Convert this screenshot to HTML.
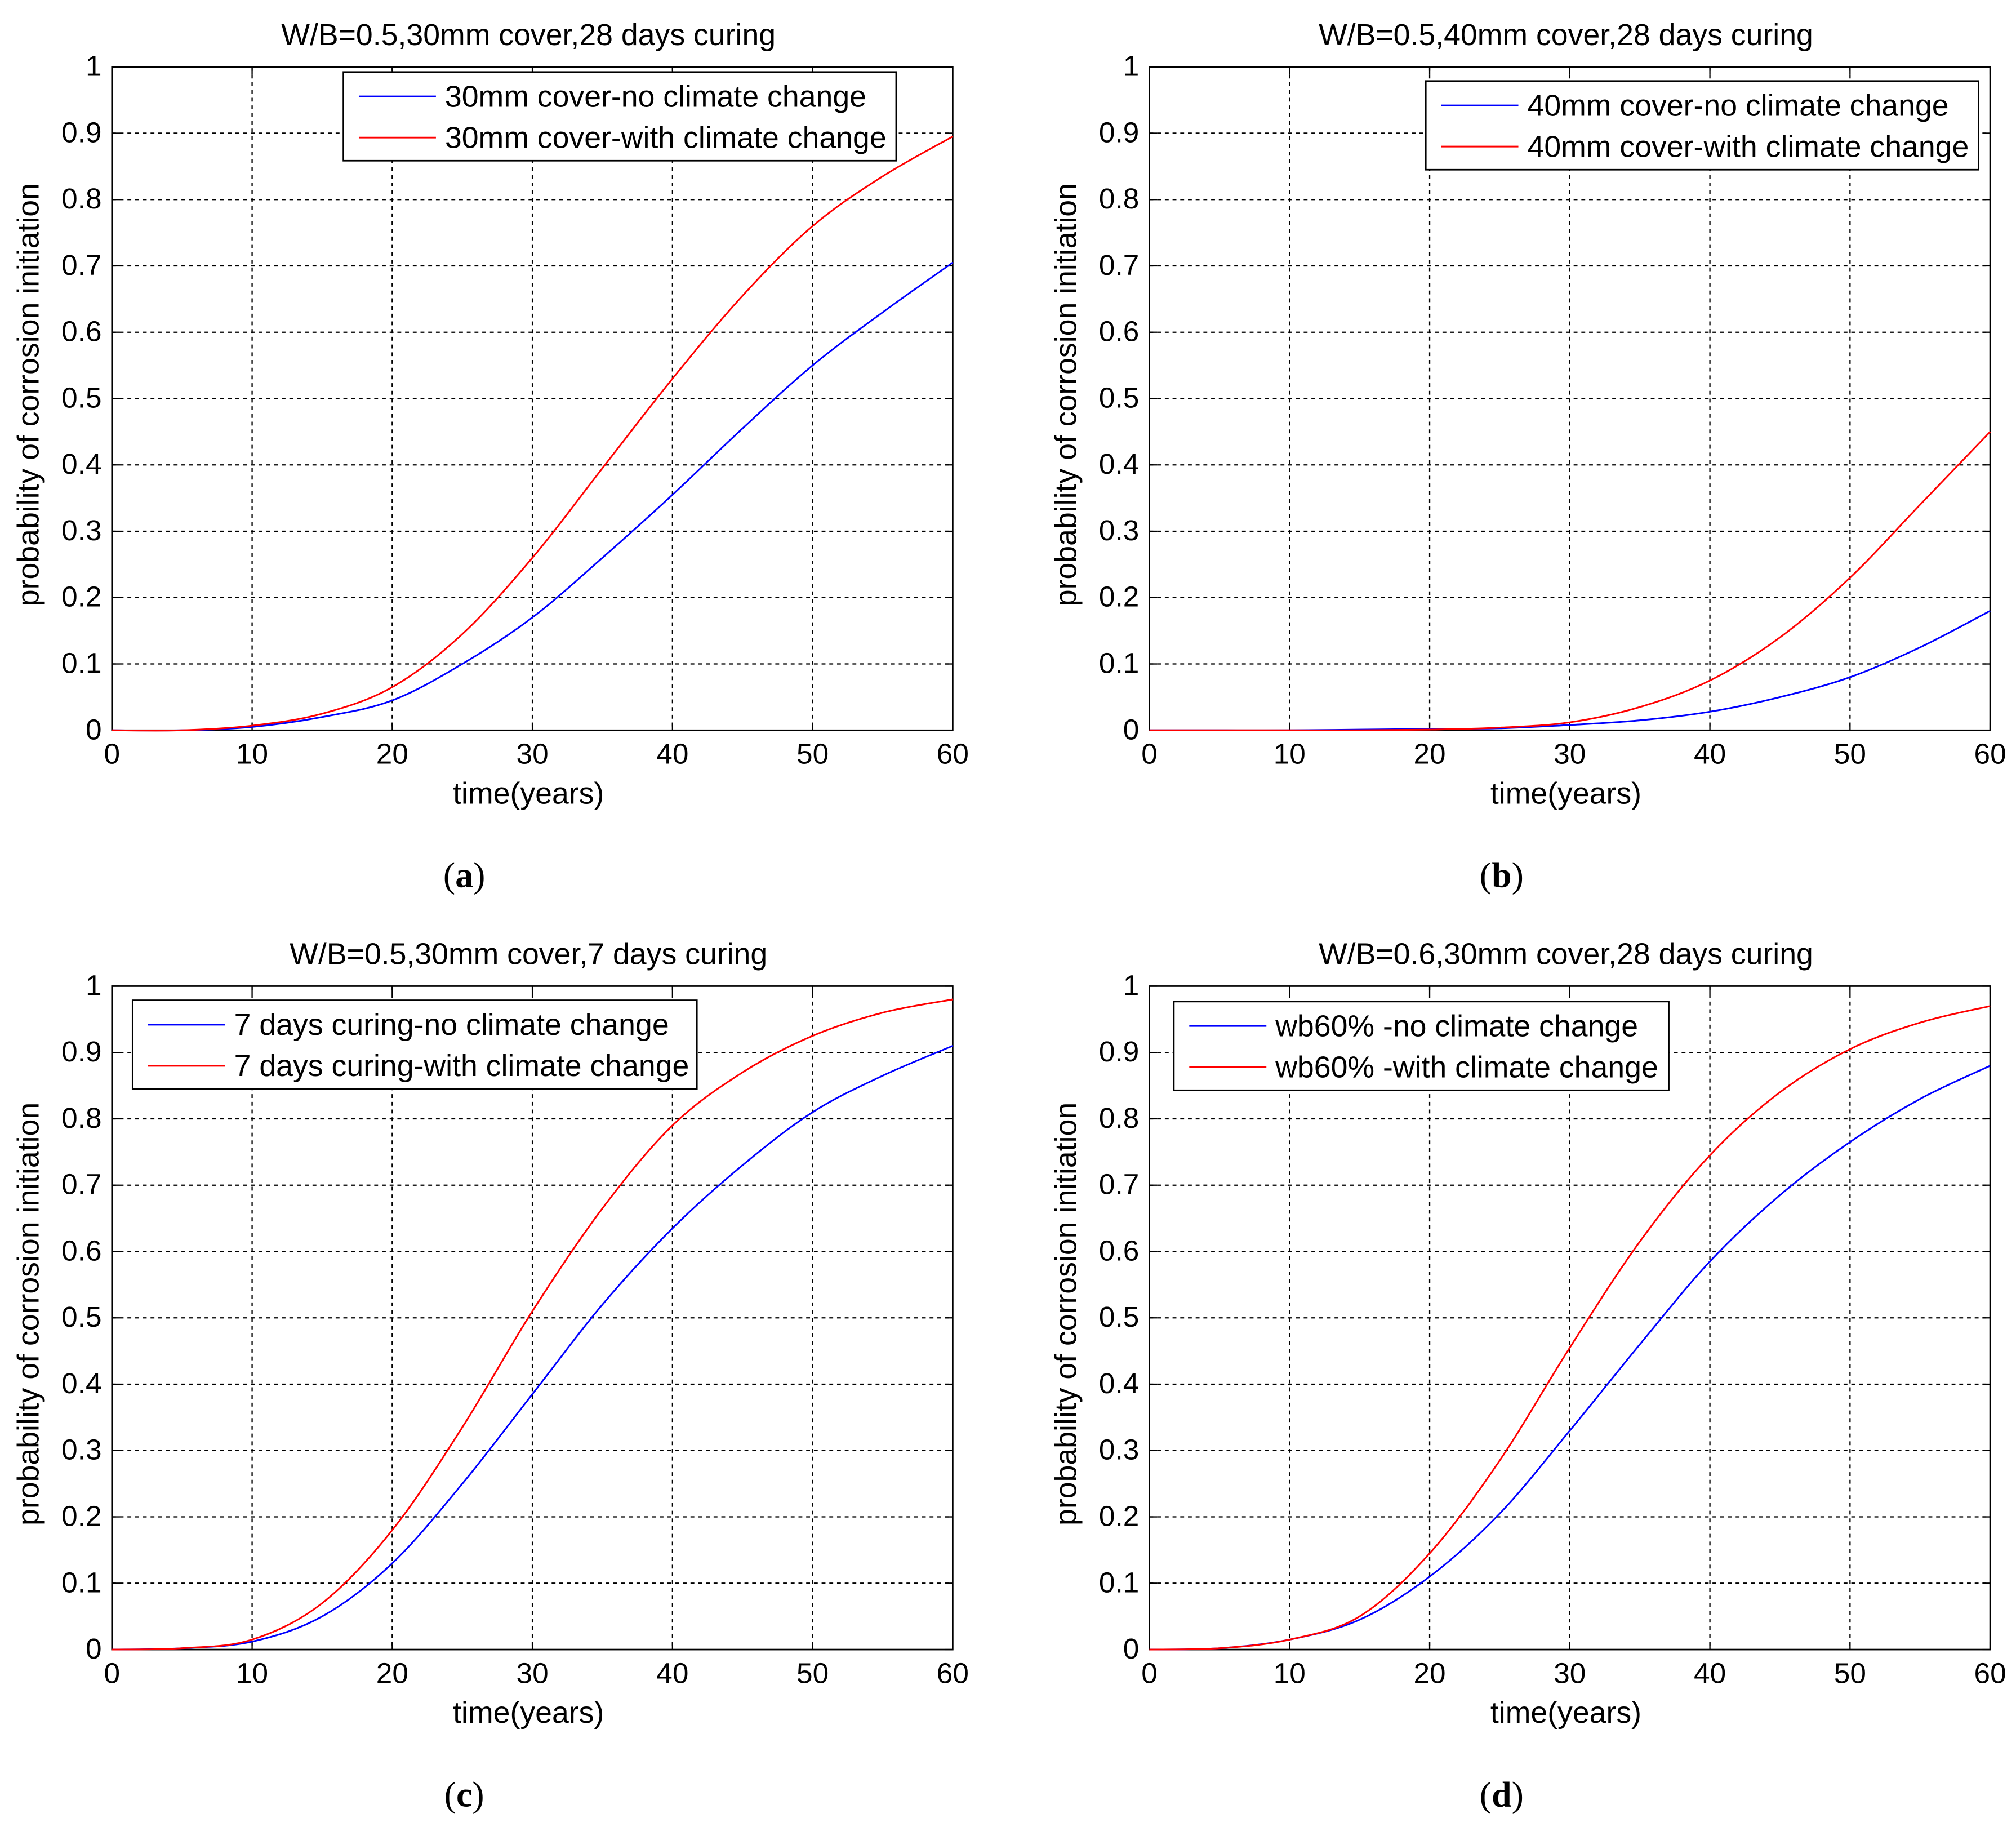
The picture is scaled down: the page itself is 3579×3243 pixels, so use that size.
<!DOCTYPE html>
<html><head><meta charset="utf-8"><style>
html,body{margin:0;padding:0;background:#fff}
svg{display:block}
text{font-family:"Liberation Sans",sans-serif;fill:#000}
text.serif{font-family:"Liberation Serif",serif}
</style></head><body>
<svg id="fig" width="3579" height="3243" viewBox="0 0 1568 1421" xmlns="http://www.w3.org/2000/svg"></svg>
<script>
const years=[0,5,10,15,20,25,30,35,40,45,50,55,60];
const aNo=[0,0,0.005,0.02,0.045,0.1,0.17,0.26,0.355,0.455,0.55,0.63,0.705];
const aWith=[0,0,0.007,0.025,0.065,0.145,0.26,0.395,0.53,0.655,0.76,0.835,0.895];
const bNo=[0,0,0,0.001,0.002,0.003,0.008,0.015,0.028,0.05,0.08,0.125,0.18];
const bWith=[0,0,0,0,0.001,0.004,0.012,0.035,0.075,0.14,0.23,0.34,0.45];
const cNo=[0,0.002,0.012,0.05,0.13,0.25,0.385,0.52,0.635,0.73,0.81,0.865,0.91];
const cWith=[0,0.002,0.015,0.07,0.18,0.335,0.51,0.665,0.79,0.87,0.925,0.96,0.98];
const dNo=[0,0.002,0.015,0.045,0.11,0.205,0.33,0.46,0.585,0.685,0.765,0.83,0.88];
const dWith=[0,0.002,0.015,0.05,0.145,0.285,0.455,0.615,0.745,0.84,0.905,0.945,0.97];
const xTicks=[0,10,20,30,40,50,60];
const yTicks=[0,0.1,0.2,0.3,0.4,0.5,0.6,0.7,0.8,0.9,1];
const yTickLabels=["0","0.1","0.2","0.3","0.4","0.5","0.6","0.7","0.8","0.9","1"];

const NS="http://www.w3.org/2000/svg";
const svg=document.getElementById('fig');
function mk(tag,attrs,parent){const e=document.createElementNS(NS,tag);for(const k in attrs)e.setAttribute(k,attrs[k]);(parent||svg).appendChild(e);return e;}
function smooth(pts){
  let d='M'+pts[0][0]+','+pts[0][1];
  for(let i=0;i<pts.length-1;i++){
    const p0=pts[Math.max(i-1,0)],p1=pts[i],p2=pts[i+1],p3=pts[Math.min(i+2,pts.length-1)];
    const c1=[p1[0]+(p2[0]-p0[0])/6,p1[1]+(p2[1]-p0[1])/6];
    const c2=[p2[0]-(p3[0]-p1[0])/6,p2[1]-(p3[1]-p1[1])/6];
    d+=` C${c1[0]},${c1[1]} ${c2[0]},${c2[1]} ${p2[0]},${p2[1]}`;
  }
  return d;
}

const panels=[
 {id:'a',x0:87,x1:741,yTop:52,yBot:568,title:'W/B=0.5,30mm cover,28 days curing',no:aNo,wi:aWith,
  leg:[267,56,430,69],l1:'30mm cover-no climate change',l2:'30mm cover-with climate change'},
 {id:'b',x0:894,x1:1548,yTop:52,yBot:568,title:'W/B=0.5,40mm cover,28 days curing',no:bNo,wi:bWith,
  leg:[1109,63,430,69],l1:'40mm cover-no climate change',l2:'40mm cover-with climate change'},
 {id:'c',x0:87,x1:741,yTop:767,yBot:1283,title:'W/B=0.5,30mm cover,7 days curing',no:cNo,wi:cWith,
  leg:[103,778,439,69],l1:'7 days curing-no climate change',l2:'7 days curing-with climate change'},
 {id:'d',x0:894,x1:1548,yTop:767,yBot:1283,title:'W/B=0.6,30mm cover,28 days curing',no:dNo,wi:dWith,
  leg:[913,779,385,69],l1:'wb60% -no climate change',l2:'wb60% -with climate change'}
];

panels.forEach(p=>{
  const g=mk('g',{});
  
  
  const sx=v=>p.x0+(v-0)/60*(p.x1-p.x0);
  const sy=v=>p.yBot-v*(p.yBot-p.yTop);
  xTicks.forEach(t=>{
    if(t>0&&t<60){const l=mk('line',{x1:sx(t),x2:sx(t),y1:p.yTop,y2:p.yBot,stroke:'#000','stroke-width':1,'stroke-dasharray':'3,3'},g);
    }
    const lab=mk('text',{x:sx(t),y:p.yBot+26,'font-size':22.5,'text-anchor':'middle'},g);lab.textContent=t;
    
    mk('line',{x1:sx(t),x2:sx(t),y1:p.yBot,y2:p.yBot-6,stroke:'#000'},g);
    mk('line',{x1:sx(t),x2:sx(t),y1:p.yTop,y2:p.yTop+6,stroke:'#000'},g);
  });
  yTicks.forEach((t,i)=>{
    if(t>0&&t<1){const l=mk('line',{x1:p.x0,x2:p.x1,y1:sy(t),y2:sy(t),stroke:'#000','stroke-width':1,'stroke-dasharray':'3,3'},g);
    }
    const lab=mk('text',{x:p.x0-8,y:sy(t)+7,'font-size':22.5,'text-anchor':'end'},g);lab.textContent=yTickLabels[i];
    
    mk('line',{x1:p.x0,x2:p.x0+6,y1:sy(t),y2:sy(t),stroke:'#000'},g);
    mk('line',{x1:p.x1,x2:p.x1-6,y1:sy(t),y2:sy(t),stroke:'#000'},g);
  });
  const box=mk('rect',{x:p.x0,y:p.yTop,width:p.x1-p.x0,height:p.yBot-p.yTop,fill:'none',stroke:'#000','stroke-width':1.2},g);
  
  [[p.no,'#0000ff','series-no-climate-change'],[p.wi,'#ff0000','series-with-climate-change']].forEach(s=>{
    const pts=years.map((y,i)=>[sx(y),sy(s[0][i])]);
    const pl=mk('path',{d:smooth(pts),fill:'none',stroke:s[1],'stroke-width':1.3},g);
    
  });
  const cx=(p.x0+p.x1)/2;
  const t=mk('text',{x:cx-3,y:p.yTop-17,'font-size':23.5,'text-anchor':'middle'},g);t.textContent=p.title;
  
  const xl=mk('text',{x:cx-3,y:p.yBot+57,'font-size':23.5,'text-anchor':'middle'},g);xl.textContent='time(years)';
  
  const ymid=(p.yTop+p.yBot)/2-3;
  const yx=p.x0-57;
  const yl=mk('text',{x:yx,y:ymid,'font-size':23.5,'text-anchor':'middle',transform:`rotate(-90 ${yx} ${ymid})`},g);
  yl.textContent='probability of corrosion initiation';
  
  const pl=mk('text',{x:cx-53,y:p.yBot+122,'font-size':28,'text-anchor':'middle','class':'serif'},g);
  pl.innerHTML='(<tspan font-weight="bold">'+p.id+'</tspan>)';
  
  const [lx,ly,lw,lh]=p.leg;
  const lg=mk('g',{},g);
  mk('rect',{x:lx,y:ly,width:lw,height:lh,fill:'#fff',stroke:'#000','stroke-width':1.2},lg);
  [[p.l1,'#0000ff',ly+19],[p.l2,'#ff0000',ly+51]].forEach((e,i)=>{
    const en=mk('g',{},lg);
    mk('line',{x1:lx+12,x2:lx+72,y1:e[2],y2:e[2],stroke:e[1],'stroke-width':1.3},en);
    const tx=mk('text',{x:lx+79,y:e[2]+8,'font-size':23.5},en);tx.textContent=e[0];
  });
});
</script>
</body></html>
